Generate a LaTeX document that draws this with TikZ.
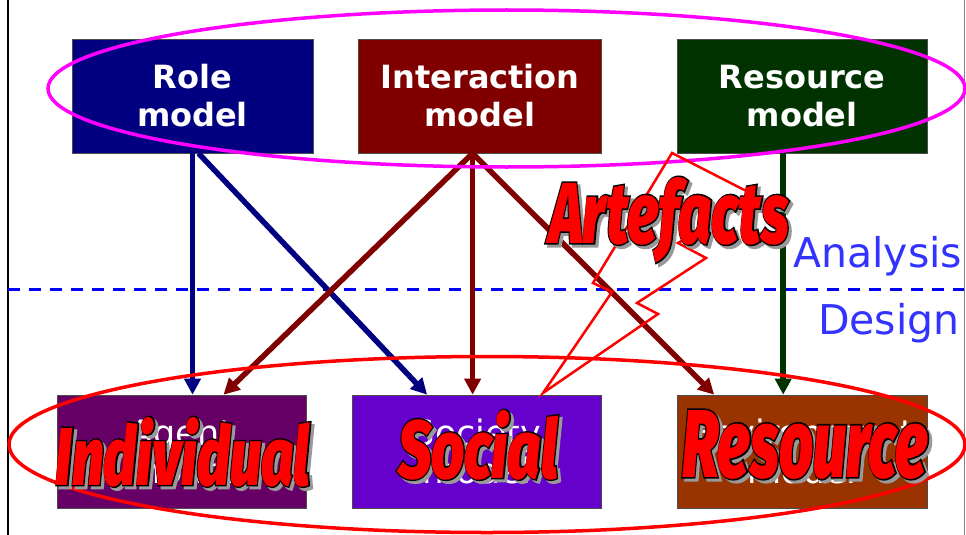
\documentclass[tikz,border=0pt]{standalone}
\usepackage{fontspec}
\setmainfont{DejaVu Sans}
\newfontfamily\wordfont{Fira Sans Black Italic}
\newfontfamily\wordedge{Fira Sans Black Italic}[FakeBold=3.5]
\usetikzlibrary{arrows.meta,positioning}
\definecolor{rolecol}{HTML}{000080}
\definecolor{intercol}{HTML}{800000}
\definecolor{rescol}{HTML}{003300}
\definecolor{agentcol}{HTML}{660066}
\definecolor{societycol}{HTML}{6600CC}
\definecolor{envcol}{HTML}{993300}
\definecolor{phasecol}{HTML}{3333FF}
\definecolor{ringcol}{RGB}{255,0,255}
\definecolor{boltcol}{RGB}{255,0,0}
\newcommand{\fitword}[3]{\resizebox{#1}{#2}{#3}}

\begin{document}
\begin{tikzpicture}[x=1pt, y=-1pt, >={Triangle[length=16pt,width=16pt]}]
        \tikzset{
           model/.style={
                        rectangle,
                        draw=black!70,
                        line width=0.6pt,
                        text=white,
                        align=center,
                        inner sep=0pt,
                        minimum height=114pt,
                        font=\bfseries\fontsize{32}{38}\selectfont
                       },
           design/.style={model, minimum height=113pt, font=\fontsize{35}{38}\selectfont},
           link/.style={->, line width=5.5pt},
           word/.style={inner sep=0pt, anchor=base, text=boltcol,
                        font=\wordfont\fontsize{90}{90}\selectfont},
           rim/.style={word, text=black, font=\wordedge\fontsize{90}{90}\selectfont},
           shade/.style={rim, text=black!40},
           phase/.style={inner sep=0pt, anchor=base west, text=phasecol,
                        font=\fontsize{41}{41}\selectfont},
                 };
    \useasboundingbox (0,0) rectangle (966,535);
    \draw[line width=1.5pt] (8,0) -- (8,535);
    \draw[black!50, line width=1pt] (964,0) -- (964,535);
    %--------------------
        \node[model, fill=rolecol, minimum width=241pt] (role) at (192.5,96) {Role\\model};
        \node[model, fill=intercol, minimum width=243pt] (inter) [right=45pt of role] {Interaction\\model};
        \node[model, fill=rescol, minimum width=250pt]   (res)   [right=75pt of inter] {Resource\\model};

        \node[design, fill=agentcol, minimum width=249pt]   (agent)   at (181.5,451.5) {Agent\\model};
        \node[design, fill=societycol, minimum width=249pt] (society) [right=46pt of agent] {Society\\model};
        \node[design, fill=envcol, minimum width=250pt]     (env)     [right=75pt of society] {Environment\\model};

        \coordinate (roleout)  at ([xshift=6pt]role.south);
        \coordinate (interout) at ([xshift=-7.5pt]inter.south);
        \coordinate (resout)   at ([xshift=-19pt]res.south);
    %--------------------
        \draw[blue, line width=3pt, dash pattern=on 12pt off 9pt] (8,289) -- (964,289);
        \node[phase] (analysis) at (793,267) {Analysis};
        \node[phase] (designlbl) at (818,334) {Design};
    %--------------------
        \path[link]
              (role.south) edge[rolecol]  (role.south |- agent.north)
              (roleout)    edge[rolecol]  ([xshift=-50pt]society.north)
              (interout)   edge[intercol] ([xshift=42pt]agent.north)
              (interout)   edge[intercol] (interout |- society.north)
              (interout)   edge[intercol] ([xshift=-88pt]env.north)
              (resout)     edge[rescol]   (resout |- env.north)
        ;
    %--------------------
        \draw[ringcol, line width=3.5pt] (506.5,88.5) ellipse [x radius=458.5pt, y radius=78.5pt];
        \draw[boltcol, line width=3.5pt] (487,444.5) ellipse [x radius=478pt, y radius=88pt];
        \draw[boltcol, line width=2.5pt] (672,153) -- (758,197) -- (678,243) -- (706,258) -- (637,303)
              -- (658,314) -- (543,393) -- (612,292) -- (593,283) -- cycle;
    %--------------------
        \node[shade] (artefactsS) at (672,246) {\fitword{240pt}{66pt}{Artefacts}};
        \node[rim]   (artefactsO) at (669,243) {\fitword{240pt}{66pt}{Artefacts}};
        \node[word]  (artefacts)  at (669,243) {\fitword{240pt}{66pt}{Artefacts}};
        \node[shade] (indivS)     at (186,488) {\fitword{254pt}{68pt}{Individual}};
        \node[rim]   (indivO)     at (183,485) {\fitword{254pt}{68pt}{Individual}};
        \node[word]  (indiv)      at (183,485) {\fitword{254pt}{68pt}{Individual}};
        \node[shade] (socialS)    at (481,481) {\fitword{160pt}{68pt}{Social}};
        \node[rim]   (socialO)    at (478,478) {\fitword{160pt}{68pt}{Social}};
        \node[word]  (social)     at (478,478) {\fitword{160pt}{68pt}{Social}};
        \node[shade] (resrcS)     at (808,480) {\fitword{246pt}{67pt}{Resource}};
        \node[rim]   (resrcO)     at (805,477) {\fitword{246pt}{67pt}{Resource}};
        \node[word]  (resrc)      at (805,477) {\fitword{246pt}{67pt}{Resource}};
    \end{tikzpicture}
\end{document}
